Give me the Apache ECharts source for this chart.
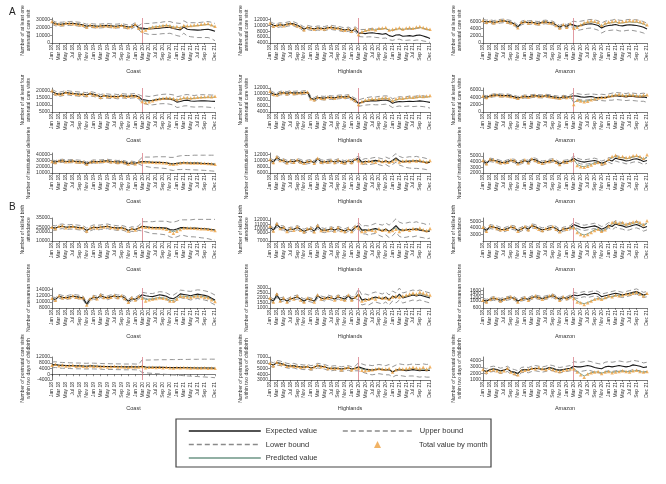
<!DOCTYPE html>
<html>
<head>
<meta charset="utf-8">
<script src="https://cdn.jsdelivr.net/npm/echarts@6/dist/echarts.min.js"></script>
<style>
html,body{margin:0;padding:0;background:#fff}
#main{width:666px;height:484px}
</style>
</head>
<body>
<div id="main"></div>
<script>
/*月份*/
var months = ['Jan 18','Feb 18','Mar 18','Apr 18','May 18','Jun 18','Jul 18','Aug 18','Sep 18','Oct 18','Nov 18','Dec 18',
	'Jan 19','Feb 19','Mar 19','Apr 19','May 19','Jun 19','Jul 19','Aug 19','Sep 19','Oct 19','Nov 19','Dec 19',
	'Jan 20','Feb 20','Mar 20','Apr 20','May 20','Jun 20','Jul 20','Aug 20','Sep 20','Oct 20','Nov 20','Dec 20',
	'Jan 21','Feb 21','Mar 21','Apr 21','May 21','Jun 21','Jul 21','Aug 21','Sep 21','Oct 21','Nov 21','Dec 21'];
var areas = ['Coast', 'Highlands', 'Amazon'];
var indicators = ['Number of at least one\nantenatal care visit', 'Number of at least four\nantenatal care visits',
	'Number of institutional deliveries', 'Number of skilled birth\nattendance', 'Number of caesarean sections',
	'Number of postnatal care visits\nwithin two days of childbirth'];

/* row 1: at least one ANC visit */
var c1Exp = [26500,24500,24000,24200,24800,25000,25200,24500,24000,23000,21500,22500,22000,21500,21800,22200,22500,22000,21500,21800,22300,21500,20500,20800,23500,19500,19000,18500,18000,18200,18500,18800,19500,19800,20000,18500,17500,16800,20500,17500,17000,16800,16500,16800,17200,17500,16500,15000];
var c1Tot = [27500,25000,24200,23800,25500,25200,24800,24300,23500,22800,20500,23000,21500,21000,22500,21800,22000,21800,20800,21500,22800,21000,20000,21500,24000,19000,15500,16500,19000,20500,21000,21500,22500,23000,22000,20500,21000,20000,22500,22000,22500,23000,23500,24000,24500,25000,23500,21500];
var c1Pred = [26800,24800,24100,24000,25200,25100,25000,24400,23800,22900,21000,22700,21800,21300,22100,22000,22300,21900,21200,21700,22500,21300,20300,21100,23700,19300,17000,17500,19200,20300,20800,21300,22200,22600,22000,20300,20200,19600,22000,21000,21400,21800,22300,22800,23300,23800,22500,20800];
var c1Up = [29000,27000,26500,26700,27300,27500,27700,27000,26500,25500,24000,25000,24500,24000,24300,24700,25000,24500,24000,24300,24800,24000,23000,23300,26000,22000,25000,25000,25000,25500,26000,26000,27000,27500,27500,26000,25500,25000,28500,26000,26000,26000,26000,26500,27000,27500,26500,25000];
var c1Lo = [24000,22000,21500,21700,22300,22500,22700,22000,21500,20500,19000,20000,19500,19000,19300,19700,20000,19500,19000,19300,19800,19000,18000,18300,21000,17000,13000,12000,11000,11000,11000,11500,12000,12000,12500,11000,9500,8500,12500,9000,8000,7500,7000,7000,7000,7000,5500,3000];

var h1Exp = [10600,10000,9900,10200,10000,10400,10600,10500,10000,9500,8700,9300,9000,8800,9100,9000,8900,9200,9300,9100,9000,8700,8400,8700,8100,8800,7400,7300,7200,7400,7500,7300,7200,7000,7200,6500,6200,6700,6800,6300,6400,6500,6300,6600,6700,6400,6000,5500];
var h1Tot = [10800,9800,10000,10400,9900,10500,10700,10400,9900,9400,8500,9400,9100,8700,9200,8900,8800,9300,9400,9000,9100,8600,8300,8800,8000,8900,6900,7800,8300,8600,8800,8500,9000,9100,9300,8400,8700,8900,9200,8800,9100,9300,9000,9400,9600,9300,9000,8700];
var h1Pred = [10700,9900,9950,10300,9950,10450,10650,10450,9950,9450,8600,9350,9050,8750,9150,8950,8850,9250,9350,9050,9050,8650,8350,8750,8050,8850,7200,7700,8100,8400,8600,8400,8700,8800,9000,8300,8400,8600,8900,8600,8800,9000,8800,9100,9300,9000,8700,8400];
var h1Up = [11300,10700,10600,10900,10700,11100,11300,11200,10700,10200,9400,10000,9700,9500,9800,9700,9600,9900,10000,9800,9700,9400,9100,9400,8800,9500,8600,8600,8600,8800,9000,8800,8800,8700,8900,8300,8100,8700,8900,8400,8600,8700,8600,8900,9100,8900,8500,8100];
var h1Lo = [9900,9300,9200,9500,9300,9700,9900,9800,9300,8800,8000,8600,8300,8100,8400,8300,8200,8500,8600,8400,8300,8000,7700,8000,7400,8100,6200,6100,6000,6100,6100,5900,5800,5600,5700,5100,4900,5200,5300,4900,4900,5000,4800,5000,5000,4700,4500,4200];

var a1Exp = [6100,5900,6000,5800,5900,6100,6200,6000,5800,5300,4500,5600,5900,5700,5800,5600,5500,5800,5900,5700,5600,5000,4400,5000,4600,5300,5000,4700,4900,5100,5300,5400,5200,4900,4200,4700,4900,5000,5200,4900,4800,5000,5100,5000,4900,4700,4400,3900];
var a1Tot = [6300,5800,6100,5700,6000,6300,6400,5900,5700,5200,4300,5800,6000,5600,5900,5500,5400,5900,6000,5600,5700,4900,4200,5200,4400,5400,4200,4400,5100,5700,6000,6200,6100,5800,5000,5600,5900,6000,6200,5900,6000,6100,6300,6200,6200,6000,5700,5100];
var a1Pred = [6200,5850,6050,5750,5950,6200,6300,5950,5750,5250,4400,5700,5950,5650,5850,5550,5450,5850,5950,5650,5650,4950,4300,5100,4500,5350,4500,4500,5000,5500,5800,5900,5800,5500,4700,5300,5600,5700,5900,5600,5600,5800,5900,5800,5800,5600,5300,4800];
var a1Up = [6600,6400,6500,6300,6400,6600,6700,6500,6300,5800,5000,6100,6400,6200,6300,6100,6000,6300,6400,6200,6100,5500,4900,5500,5100,5800,6100,5900,6100,6300,6500,6600,6500,6200,5600,6100,6300,6400,6700,6400,6300,6500,6600,6500,6500,6300,6000,5500];
var a1Lo = [5600,5400,5500,5300,5400,5600,5700,5500,5300,4800,4000,5100,5400,5200,5300,5100,5000,5300,5400,5200,5100,4500,3900,4500,4100,4800,3900,3500,3700,3900,4100,4200,3900,3600,2800,3300,3500,3600,3700,3400,3300,3500,3600,3500,3300,3100,2800,2200];

/* row 2: at least four ANC visits */
var c2Exp = [19500,18200,17500,18000,18800,18400,18000,17900,17600,17500,17200,18000,17500,16800,15800,16500,16300,16000,16200,15800,16500,16300,16000,16400,16600,15800,13800,13500,13000,13200,13600,14000,14200,14300,14000,13500,12000,12400,13200,13400,12800,12600,12800,13000,12900,12800,12600,12500];
var c2Tot = [20000,18000,17800,17700,19000,18200,18300,17600,17400,17800,16800,18200,17200,17000,15500,16800,16000,16200,15900,16000,16800,16000,16200,16700,16400,15500,12500,11800,12300,13000,13800,14400,14800,15100,15000,14600,13800,14500,15200,15300,15000,15200,15500,15700,15800,16000,15800,16200];
var c2Pred = [19700,18100,17650,17850,18900,18300,18150,17750,17500,17650,17000,18100,17350,16900,15650,16650,16150,16100,16050,15900,16650,16150,16100,16550,16500,15650,13000,12600,12800,13300,13900,14300,14600,14800,14700,14300,13500,14000,14700,14800,14500,14700,15000,15200,15300,15500,15400,15600];
var c2Up = [21000,19700,19000,19500,20300,19900,19500,19400,19100,19000,18700,19500,19000,18300,17300,18000,17800,17500,17700,17300,18000,17800,17500,17900,18100,17300,16200,16300,16000,16300,16800,17200,17500,17700,17500,17100,15800,16300,17100,17400,16900,16700,17000,17300,17200,17200,17000,17000];
var c2Lo = [18000,16700,16000,16500,17300,16900,16500,16400,16100,16000,15700,16500,16000,15300,14300,15000,14800,14500,14700,14300,15000,14800,14500,14900,15100,14300,11400,10700,10000,10100,10400,10800,10900,10900,10500,9900,8200,8500,9300,9400,8700,8500,8600,8700,8600,8400,8200,7800];

var h2Exp = [10600,10000,9800,10300,10400,10200,10500,10300,10400,10300,10500,10500,8600,8200,8800,8700,8600,8900,8800,8700,9000,9100,9000,9200,8600,8000,6900,7200,7500,7600,7800,7700,7800,7900,8000,7700,6900,7300,7500,7400,7500,7600,7500,7600,7700,7600,7400,7200];
var h2Tot = [10900,9900,9700,10400,10500,10100,10600,10200,10300,10400,10600,10700,8400,8100,8900,8600,8500,9000,8900,8600,9100,9200,8900,9300,8500,7800,6500,7500,8000,8200,8400,8300,8500,8700,8800,8500,7800,8400,8700,8600,8800,9000,8900,9100,9300,9200,9300,9500];
var h2Pred = [10750,9950,9750,10350,10450,10150,10550,10250,10350,10350,10550,10600,8500,8150,8850,8650,8550,8950,8850,8650,9050,9150,8950,9250,8550,7900,6700,7400,7800,8000,8200,8100,8300,8500,8600,8300,7500,8000,8400,8300,8500,8700,8600,8800,9000,8900,9000,9100];
var h2Up = [11200,10600,10400,10900,11000,10800,11100,10900,11000,10900,11100,11100,9200,8800,9400,9300,9200,9500,9400,9300,9600,9700,9600,9800,9200,8600,8000,8400,8700,8900,9100,9000,9200,9300,9400,9200,8400,8800,9100,9000,9100,9300,9200,9300,9500,9400,9200,9100];
var h2Lo = [10000,9400,9200,9700,9800,9600,9900,9700,9800,9700,9900,9900,8000,7600,8200,8100,8000,8300,8200,8100,8400,8500,8400,8600,8000,7400,5900,6100,6300,6400,6500,6400,6400,6500,6600,6200,5500,5800,6000,5800,5900,6000,5800,5900,5900,5800,5600,5300];

var a2Exp = [4200,4000,4300,4500,4600,4500,4400,4500,4300,4100,3800,4000,4200,4100,4300,4400,4300,4200,4400,4300,4100,4000,3800,4100,4000,4200,4400,4300,4100,4000,4100,4200,4000,3900,4000,3900,4100,4200,4400,4300,4200,4100,4300,4200,4100,4000,4100,3900];
var a2Tot = [4300,3900,4400,4600,4700,4400,4500,4400,4200,4000,3700,4100,4300,4000,4400,4500,4200,4300,4500,4200,4000,3900,3700,4200,3900,4100,2000,3200,3000,2800,2900,3300,3600,3800,3900,4000,4300,4500,4700,4800,4600,4500,4700,4600,4500,4400,4600,4700];
var a2Pred = [4250,3950,4350,4550,4650,4450,4450,4450,4250,4050,3750,4050,4250,4050,4350,4450,4250,4250,4450,4250,4050,3950,3750,4150,3950,4150,2600,3100,3000,2900,3000,3300,3500,3700,3800,3900,4200,4400,4600,4600,4500,4400,4600,4500,4400,4300,4400,4500];
var a2Up = [4600,4400,4700,4900,5000,4900,4800,4900,4700,4500,4200,4400,4600,4500,4700,4800,4700,4600,4800,4700,4500,4400,4200,4500,4400,4600,5200,5000,4800,4700,4800,4900,4800,4700,4800,4700,4900,5100,5300,5200,5100,5000,5200,5100,5000,5000,5100,4900];
var a2Lo = [3800,3600,3900,4100,4200,4100,4000,4100,3900,3700,3400,3600,3800,3700,3900,4000,3900,3800,4000,3900,3700,3600,3400,3700,3600,3800,3600,3500,3300,3200,3300,3400,3200,3100,3100,3000,3200,3200,3400,3300,3200,3100,3200,3100,3000,2900,2900,2600];

/* row 3: institutional deliveries */
var c3Exp = [28000,27500,29000,29500,28500,28800,29000,28500,28000,27500,25000,27000,28500,28000,28500,29000,29500,28500,28000,27500,28000,27000,25000,26500,25500,27000,28500,28000,27500,27000,27200,27000,26800,26500,25000,24500,25500,26000,26500,26000,25800,26000,25800,25500,25300,25000,24500,24000];
var c3Tot = [28500,27000,29500,30000,28000,29000,29500,28200,27800,27800,24500,27500,28800,27500,29000,28800,29800,28200,28300,27000,28200,26800,24500,27000,25000,27500,27500,27800,27600,27200,27000,26800,26600,26200,24500,24200,25000,26200,26800,26300,26000,26200,26000,25800,25500,25200,24800,24200];
var c3Pred = [28250,27250,29250,29750,28250,28900,29250,28350,27900,27650,24750,27250,28650,27750,28750,28900,29650,28350,28150,27250,28100,26900,24750,26750,25250,27250,27800,27800,27500,27100,27000,26800,26600,26300,24700,24300,25200,26000,26600,26100,25900,26100,25900,25600,25400,25100,24600,24100];
var c3Up = [30500,30000,31500,32000,31000,31300,31500,31000,30500,30000,27500,29500,31000,30500,31000,31500,32000,31000,30500,30000,30500,29500,27500,29000,28000,29500,35000,35500,35500,35500,36000,36000,36000,36000,35000,35000,36500,37500,38000,38000,38000,38500,38500,38500,38500,38500,38500,38500];
var c3Lo = [25500,25000,26500,27000,26000,26300,26500,26000,25500,25000,22500,24500,26000,25500,26000,26500,27000,26000,25500,25000,25500,24500,22500,24000,23000,24500,22000,20500,19500,18500,18400,18000,17600,17000,15000,14000,15500,15500,16000,15500,15200,15000,14800,14500,14200,13800,13300,12800];

var h3Exp = [10200,9600,11000,10300,10000,9500,9800,9700,10100,9800,9300,9600,9800,9400,10600,9700,9500,9800,9900,9600,10000,9700,9400,9900,9600,10300,10800,9500,9800,9600,9900,10100,9800,9500,10000,9400,10100,10900,10000,9600,9700,9900,9800,10000,9700,9600,9300,9500];
var h3Tot = [10400,9400,11200,10100,10200,9300,10000,9500,10300,9600,9200,9800,10000,9200,10800,9500,9700,9600,10100,9400,10200,9500,9300,10100,9400,10500,10000,9300,9600,9900,9700,9500,10100,9700,9900,9500,9800,10300,9600,9900,10000,9700,10100,9900,10200,9800,9600,10100];
var h3Pred = [10300,9500,11100,10200,10100,9400,9900,9600,10200,9700,9250,9700,9900,9300,10700,9600,9600,9700,10000,9500,10100,9600,9350,10000,9500,10400,10300,9400,9700,9800,9800,9700,10000,9600,9900,9500,9900,10500,9800,9800,9900,9800,10000,9900,10000,9700,9500,9900];
var h3Up = [10800,10200,11600,10900,10600,10100,10400,10300,10700,10400,9900,10200,10400,10000,11200,10300,10100,10400,10500,10200,10600,10300,10000,10500,10200,10900,11500,10300,10700,10600,10900,11100,10900,10600,11200,10700,11400,12300,11400,11000,11100,11300,11200,11400,11100,11000,10700,10900];
var h3Lo = [9600,9000,10400,9700,9400,8900,9200,9100,9500,9200,8700,9000,9200,8800,10000,9100,8900,9200,9300,9000,9400,9100,8800,9300,9000,9700,10100,8700,8900,8600,8900,9100,8700,8400,8800,8100,8800,9500,8600,8200,7800,7600,7500,7500,7400,7300,7100,7300];

var a3Exp = [4100,3700,4300,4200,4100,3900,3800,4000,4200,4100,3700,3900,4200,3900,4400,4300,4000,3800,3900,4100,4200,4000,3600,3900,4000,4100,4600,4200,4000,3900,4000,4100,4200,4000,3700,3900,4300,4100,4600,4400,4300,4100,4200,4400,4500,4300,4000,4200];
var a3Tot = [4200,3600,4400,4300,4000,3800,3900,3900,4300,4200,3600,4000,4300,3800,4500,4200,3900,3700,4000,4000,4300,3900,3500,4000,3900,4200,4300,3300,3100,3000,3200,3400,3700,3900,3600,3800,4400,4900,5100,4800,4900,4700,4800,5000,5100,4900,4600,5200];
var a3Pred = [4150,3650,4350,4250,4050,3850,3850,3950,4250,4150,3650,3950,4250,3850,4450,4250,3950,3750,3950,4050,4250,3950,3550,3950,3950,4150,4400,3500,3200,3100,3300,3500,3800,3900,3650,3850,4300,4700,4900,4700,4700,4500,4600,4800,4900,4700,4400,4800];
var a3Up = [4400,4000,4600,4500,4400,4200,4100,4300,4500,4400,4000,4200,4500,4200,4700,4600,4300,4100,4200,4400,4500,4300,3900,4200,4300,4400,5000,4600,4400,4300,4400,4500,4600,4400,4100,4300,4700,4600,5100,4900,4800,4600,4700,4900,5000,4800,4500,4700];
var a3Lo = [3800,3400,4000,3900,3800,3600,3500,3700,3900,3800,3400,3600,3900,3600,4100,4000,3700,3500,3600,3800,3900,3700,3300,3600,3700,3800,4200,3800,3600,3500,3600,3700,3800,3600,3300,3500,3900,3600,4100,3900,3800,3600,3700,3900,4000,3800,3500,3700];

/* row 4: skilled birth attendance */
var c4Exp = [24500,24000,25500,26000,25000,25300,25500,25000,24500,24000,21500,23500,25000,24500,25000,25500,26000,25000,24500,24000,24500,23500,21500,23000,22500,24000,26000,25500,25000,24500,24700,24500,24300,24000,22500,22000,23000,24500,24500,24000,23800,24000,23800,23500,23300,23000,22500,22000];
var c4Tot = [25000,23500,26000,26500,24500,25500,26000,24800,24300,24300,21000,24000,25300,24000,25500,25300,26300,24700,24800,23500,24700,23300,21000,23500,22000,24500,25500,25000,24800,24300,24200,24000,23500,22800,20500,18500,20500,22500,24000,24200,24000,23800,23600,23400,23200,22800,22300,21500];
var c4Pred = [24750,23750,25750,26250,24750,25400,25750,24900,24400,24150,21250,23750,25150,24250,25250,25400,26150,24850,24650,23750,24600,23400,21250,23250,22250,24250,25700,25200,24900,24400,24400,24200,23900,23400,21500,20000,21500,23300,24200,24100,23900,23900,23700,23500,23300,22900,22400,21800];
var c4Up = [27000,26500,28000,28500,27500,27800,28000,27500,27000,26500,24000,26000,27500,27000,27500,28000,28500,27500,27000,26500,27000,26000,24000,25500,25000,26500,31000,31000,31000,31000,31500,31500,31500,31500,30500,30500,31500,33000,33000,33000,33000,33500,33500,33500,33500,33500,33500,33500];
var c4Lo = [22000,21500,23000,23500,22500,22800,23000,22500,22000,21500,19000,21000,22500,22000,22500,23000,23500,22500,22000,21500,22000,21000,19000,20500,20000,21500,21000,20000,19000,18000,17900,17500,17100,16500,14500,13500,14500,16000,16000,15000,14600,14500,14100,13500,13100,12500,11500,11000];

var h4Exp = [10300,9600,10900,10200,10100,9500,9800,9800,10200,9800,9300,9700,9900,9400,10500,9700,9500,9700,9900,9600,10000,9700,9400,9800,9500,10200,10700,9600,9700,9500,9800,10000,9700,9400,9900,9300,9900,10700,9800,9500,9600,9800,9700,9900,9600,9500,9200,9400];
var h4Tot = [10500,9400,11100,10000,10300,9300,10000,9600,10400,9600,9200,9900,10100,9200,10700,9500,9700,9500,10100,9400,10200,9500,9300,10000,9300,10400,10100,9300,9400,9700,9600,9400,9900,9600,9700,9300,9500,9800,9300,9700,9800,9600,10000,9800,10100,9700,9500,10000];
var h4Pred = [10400,9500,11000,10100,10200,9400,9900,9700,10300,9700,9250,9800,10000,9300,10600,9600,9600,9600,10000,9500,10100,9600,9350,9900,9400,10300,10400,9450,9550,9600,9700,9700,9800,9500,9800,9300,9700,10200,9500,9600,9700,9700,9850,9850,9850,9600,9350,9700];
var h4Up = [10800,10100,11400,10700,10600,10000,10300,10300,10700,10300,9800,10200,10400,9900,11000,10200,10000,10200,10400,10100,10500,10200,9900,10300,10000,10700,11400,10500,10700,10600,10900,11200,11000,10800,11300,10800,11500,12300,11500,11200,11300,11500,11400,11600,11300,11200,10900,11100];
var h4Lo = [9800,9100,10400,9700,9600,9000,9300,9300,9700,9300,8800,9200,9400,8900,10000,9200,9000,9200,9400,9100,9500,9200,8900,9300,9000,9700,10000,8700,8700,8400,8700,8800,8400,8000,8500,7800,8300,9100,8100,7800,7900,8100,8000,8200,7900,7800,7500,7700];

var a4Exp = [4000,3600,4200,4100,4000,3800,3700,3900,4100,4000,3600,3800,4100,3800,4300,4200,3900,3700,3800,4000,4100,3900,3500,3800,3900,4000,4500,4300,4100,4000,4100,4200,4300,4100,3800,4000,4400,4200,4600,4400,4300,4100,4200,4400,4500,4300,4000,4200];
var a4Tot = [4100,3500,4300,4200,3900,3700,3800,3800,4200,4100,3500,3900,4200,3700,4400,4100,3800,3600,3900,3900,4200,3800,3400,3900,3800,4100,4000,3300,3000,2800,3000,3300,3600,3800,3500,3700,4300,4800,4900,4700,4800,4600,4700,4900,5000,4800,4500,5100];
var a4Pred = [4050,3550,4250,4150,3950,3750,3750,3850,4150,4050,3550,3850,4150,3750,4350,4150,3850,3650,3850,3950,4150,3850,3450,3850,3850,4050,4200,3500,3100,2900,3100,3400,3700,3800,3550,3750,4200,4600,4800,4600,4600,4400,4500,4700,4800,4600,4300,4700];
var a4Up = [4300,3900,4500,4400,4300,4100,4000,4200,4400,4300,3900,4100,4400,4100,4600,4500,4200,4000,4100,4300,4400,4200,3800,4100,4200,4300,4900,4700,4500,4400,4500,4600,4700,4500,4200,4400,4800,4700,5100,4900,4800,4600,4700,4900,5000,4800,4500,4700];
var a4Lo = [3700,3300,3900,3800,3700,3500,3400,3600,3800,3700,3300,3500,3800,3500,4000,3900,3600,3400,3500,3700,3800,3600,3200,3500,3600,3700,4100,3900,3700,3600,3700,3800,3900,3700,3400,3600,4000,3700,4100,3900,3800,3600,3700,3900,4000,3800,3500,3700];

/* row 5: caesarean sections */
var c5Exp = [11000,10800,11800,11500,11300,11600,11800,11700,11500,11200,9300,10800,11500,11200,12000,11600,11300,11700,11900,11600,11800,11300,10200,11000,10800,11500,12300,12000,11800,11700,12000,12300,12100,11800,11200,11000,11700,12600,12400,12200,12000,12300,12500,12300,12100,11800,11200,10600];
var c5Tot = [11200,10500,12000,11300,11500,11400,12000,11500,11300,11300,9000,11000,11700,11000,12200,11400,11500,11500,12100,11400,12000,11100,9900,11300,10600,11700,11200,10300,10700,10900,11100,11300,11200,11000,10300,10300,10900,11800,11700,11600,11400,11700,11900,11700,11500,11300,10700,10100];
var c5Pred = [11100,10650,11900,11400,11400,11500,11900,11600,11400,11250,9150,10900,11600,11100,12100,11500,11400,11600,12000,11500,11900,11200,10050,11150,10700,11600,11500,10700,10900,11000,11200,11400,11300,11100,10500,10400,11100,11900,11800,11700,11500,11800,12000,11800,11600,11400,10800,10200];
var c5Up = [11600,11400,12400,12100,11900,12200,12400,12300,12100,11800,9900,11400,12100,11800,12600,12200,11900,12300,12500,12200,12400,11900,10800,11600,11400,12100,13100,12900,12700,12700,13000,13300,13200,12900,12300,12200,12900,13800,13700,13500,13400,13700,13900,13800,13600,13300,12800,12200];
var c5Lo = [10400,10200,11200,10900,10700,11000,11200,11100,10900,10600,8700,10200,10900,10600,11400,11000,10700,11100,11300,11000,11200,10700,9600,10400,10200,10900,11500,11100,10900,10700,11000,11300,11000,10700,10100,9800,10500,11400,11100,10900,10600,10900,11100,10800,10600,10300,9600,9000];

var h5Exp = [1900,1700,2300,1800,1900,1700,1900,2000,2100,1900,1700,1900,1800,1700,2200,2000,1900,2100,2000,1900,2100,2000,1900,2200,1900,2000,2400,1800,1900,1800,2000,2100,2000,1900,2100,1800,2200,2000,2400,2000,2100,2200,2300,2200,2300,2200,2100,2000];
var h5Tot = [2000,1600,2400,1700,2000,1600,2000,1900,2200,1800,1600,2000,1900,1600,2300,1900,2000,2000,2100,1800,2200,1900,1800,2300,1800,2100,2300,1700,1800,1900,2000,1900,2100,2000,2000,1900,2100,2200,2100,2200,2300,2400,2500,2400,2600,2500,2400,2300];
var h5Pred = [1950,1650,2350,1750,1950,1650,1950,1950,2150,1850,1650,1950,1850,1650,2250,1950,1950,2050,2050,1850,2150,1950,1850,2250,1850,2050,2350,1750,1850,1850,2000,2000,2050,1950,2050,1850,2150,2100,2250,2100,2200,2300,2400,2300,2450,2350,2250,2150];
var h5Up = [2100,1900,2500,2000,2100,1900,2100,2200,2300,2100,1900,2100,2000,1900,2400,2200,2100,2300,2200,2100,2300,2200,2100,2400,2100,2200,2900,2300,2400,2300,2500,2600,2500,2400,2600,2300,2700,2500,3000,2500,2600,2700,2800,2700,2800,2700,2600,2500];
var h5Lo = [1700,1500,2100,1600,1700,1500,1700,1800,1900,1700,1500,1700,1600,1500,2000,1800,1700,1900,1800,1700,1900,1800,1700,2000,1700,1800,1900,1300,1400,1300,1500,1600,1500,1400,1600,1300,1700,1500,1800,1500,1600,1700,1800,1700,1800,1700,1600,1500];

var a5Exp = [1050,1000,1100,1150,1100,1050,1100,1150,1200,1150,1000,1100,1150,1100,1200,1250,1200,1150,1200,1250,1300,1200,1100,1200,1150,1250,1350,1300,1350,1400,1350,1400,1450,1400,1250,1300,1350,1400,1450,1400,1350,1400,1450,1500,1550,1450,1350,1400];
var a5Tot = [1050,950,1100,1200,1150,1000,1100,1200,1250,1150,950,1100,1200,1050,1200,1300,1200,1100,1200,1300,1350,1200,1050,1250,1150,1250,1150,950,900,800,900,1000,1100,1150,1100,1200,1300,1250,1350,1300,1350,1400,1400,1450,1500,1400,1300,1450];
var a5Pred = [1050,975,1100,1175,1125,1025,1100,1175,1225,1150,975,1100,1175,1075,1200,1275,1200,1125,1200,1275,1325,1200,1075,1225,1150,1250,1200,1000,900,850,920,1000,1100,1150,1100,1150,1250,1250,1350,1300,1330,1380,1400,1450,1480,1400,1300,1400];
var a5Up = [1150,1100,1200,1250,1200,1150,1200,1250,1300,1250,1100,1200,1250,1200,1300,1350,1300,1250,1300,1350,1400,1300,1200,1300,1250,1350,1500,1450,1500,1550,1500,1550,1600,1550,1400,1450,1500,1550,1600,1550,1500,1550,1600,1650,1700,1600,1500,1550];
var a5Lo = [950,900,1000,1050,1000,950,1000,1050,1100,1050,900,1000,1050,1000,1100,1150,1100,1050,1100,1150,1200,1100,1000,1100,1050,1150,1200,1150,1200,1250,1200,1250,1300,1250,1100,1150,1200,1250,1300,1250,1200,1250,1300,1350,1400,1300,1200,1250];

/* row 6: postnatal care visits within two days */
var c6Exp = [6500,6700,6300,6200,6100,6000,5900,5800,5800,5700,5600,5800,5700,5600,5500,5400,5400,5300,5300,5200,5200,5100,5100,5200,5100,5000,5600,5000,4900,4900,4800,4800,4800,4700,4700,4600,4600,4600,4500,4500,4500,4400,4400,4400,4300,4300,4300,4200];
var c6Tot = [6300,7000,6000,6400,5800,5900,6200,5600,5900,5500,5300,6000,5600,5800,5200,5500,5100,5300,5500,5000,5300,5000,4800,5300,5000,5100,5400,4600,4800,4900,4700,4900,4600,4800,4500,4400,4700,4500,4700,4600,4400,4500,4400,4300,4500,4200,4300,4100];
var c6Pred = [6400,6800,6200,6300,5900,5950,6050,5700,5850,5600,5450,5900,5650,5700,5350,5450,5250,5300,5400,5100,5250,5050,4950,5250,5050,5050,5300,4700,4800,4850,4750,4850,4650,4750,4550,4450,4650,4550,4650,4550,4450,4450,4400,4350,4450,4250,4300,4150];
var c6Up = [8500,8700,8300,8200,8100,8000,7900,7800,7800,7700,7600,7800,7700,7600,7500,7400,7400,7300,7300,7200,7200,7100,7100,7200,7100,7000,10000,9900,9900,10000,10000,10100,10100,10100,10200,10200,10200,10300,10300,10300,10400,10400,10400,10500,10500,10500,10500,10500];
var c6Lo = [4500,4700,4300,4200,4100,4000,3900,3800,3800,3700,3600,3800,3700,3600,3500,3400,3400,3300,3300,3200,3200,3100,3100,3200,3100,3000,1200,1000,800,600,400,300,100,-100,-300,-500,-700,-800,-1000,-1200,-1300,-1500,-1600,-1800,-1900,-2100,-2200,-2400];

var h6Exp = [5800,5600,6000,5900,5700,5500,5400,5500,5300,5300,5200,5300,5100,5200,5500,5400,5300,5100,5000,5100,5000,4900,5000,5100,4900,5000,5300,5100,4900,4800,4700,4800,4900,4800,4700,4800,4400,4700,4800,4700,4600,4700,4800,4700,4600,4700,4600,4700];
var h6Tot = [5900,5500,6100,5800,5800,5400,5500,5400,5400,5200,5300,5400,5000,5300,5600,5300,5400,5000,5100,5000,5100,4800,5100,5200,4800,5100,5100,4700,4600,4700,4800,4900,5000,4900,4900,5000,4400,4800,5000,4900,5000,5100,5200,5100,5000,5200,4900,5300];
var h6Pred = [5850,5550,6050,5850,5750,5450,5450,5450,5350,5250,5250,5350,5050,5250,5550,5350,5350,5050,5050,5050,5050,4850,5050,5150,4850,5050,5200,4900,4750,4750,4750,4850,4950,4850,4800,4900,4400,4750,4900,4800,4800,4900,5000,4900,4800,4950,4750,5000];
var h6Up = [6200,6000,6400,6300,6100,5900,5800,5900,5700,5700,5600,5700,5500,5600,5900,5800,5700,5500,5400,5500,5400,5300,5400,5500,5300,5400,6000,5800,5600,5600,5500,5600,5700,5600,5500,5700,5300,5600,5800,5700,5600,5700,5800,5700,5700,5800,5700,5800];
var h6Lo = [5400,5200,5600,5500,5300,5100,5000,5100,4900,4900,4800,4900,4700,4800,5100,5000,4900,4700,4600,4700,4600,4500,4600,4700,4500,4600,4600,4400,4200,4000,3900,4000,4100,4000,3900,3900,3500,3800,3800,3700,3600,3700,3700,3600,3500,3600,3500,3500];

var a6Exp = [2500,2300,2600,2700,2600,2400,2500,2700,2300,2200,2000,2500,2600,2500,2700,2800,2700,2600,2700,2900,2800,2600,2500,2600,2700,2800,3100,3000,3000,3100,3200,3100,2900,2800,2700,3000,3100,3000,3100,3200,3100,3000,3100,3300,3200,3100,2900,3000];
var a6Tot = [2600,2200,2500,2600,2400,2200,2400,2800,2200,2000,1800,2400,2500,2600,2800,2700,2900,2700,2600,2800,2600,2400,2300,2500,2600,2700,2700,2200,1800,1400,1900,2100,2200,2300,2000,2200,2300,2100,2200,2300,2400,2300,2200,2400,2500,2300,2200,2300];
var a6Pred = [2550,2250,2550,2650,2500,2300,2450,2750,2250,2100,1900,2450,2550,2550,2750,2750,2800,2650,2650,2850,2700,2500,2400,2550,2650,2750,2800,2300,1950,1600,1900,2100,2200,2250,2050,2200,2300,2150,2250,2300,2350,2300,2250,2350,2450,2300,2200,2250];
var a6Up = [2900,2700,3000,3100,3000,2800,2900,3100,2700,2600,2400,2900,3000,2900,3100,3200,3100,3000,3100,3300,3200,3000,2900,3000,3100,3200,3800,3700,3700,3800,3900,3800,3600,3500,3400,3700,3800,3700,3800,3900,3800,3700,3800,4000,3900,3800,3600,3700];
var a6Lo = [2100,1900,2200,2300,2200,2000,2100,2300,1900,1800,1600,2100,2200,2100,2300,2400,2300,2200,2300,2500,2400,2200,2100,2200,2300,2400,2400,2300,2300,2400,2500,2400,2200,2100,2000,2300,2400,2300,2400,2500,2400,2300,2400,2600,2500,2400,2200,2300];

/* y axis tick settings, one per panel: [min, max, interval] */
var yScale = [
	[0, 32000, 10000], [4000, 12500, 2000], [0, 7000, 2000],
	[5000, 22000, 5000], [4000, 12000, 2000], [0, 6500, 2000],
	[10000, 42000, 10000], [6000, 12500, 2000], [2000, 5500, 1000],
	[10000, 35000, 5000], [7000, 12500, 1000], [2000, 5500, 1000],
	[8000, 14500, 2000], [1000, 3000, 500], [600, 1750, 200],
	[-4000, 12000, 4000], [3000, 7000, 1000], [1000, 4500, 1000]
];
var panelData = [
	[c1Tot, c1Exp, c1Pred, c1Up, c1Lo], [h1Tot, h1Exp, h1Pred, h1Up, h1Lo], [a1Tot, a1Exp, a1Pred, a1Up, a1Lo],
	[c2Tot, c2Exp, c2Pred, c2Up, c2Lo], [h2Tot, h2Exp, h2Pred, h2Up, h2Lo], [a2Tot, a2Exp, a2Pred, a2Up, a2Lo],
	[c3Tot, c3Exp, c3Pred, c3Up, c3Lo], [h3Tot, h3Exp, h3Pred, h3Up, h3Lo], [a3Tot, a3Exp, a3Pred, a3Up, a3Lo],
	[c4Tot, c4Exp, c4Pred, c4Up, c4Lo], [h4Tot, h4Exp, h4Pred, h4Up, h4Lo], [a4Tot, a4Exp, a4Pred, a4Up, a4Lo],
	[c5Tot, c5Exp, c5Pred, c5Up, c5Lo], [h5Tot, h5Exp, h5Pred, h5Up, h5Lo], [a5Tot, a5Exp, a5Pred, a5Up, a5Lo],
	[c6Tot, c6Exp, c6Pred, c6Up, c6Lo], [h6Tot, h6Exp, h6Pred, h6Up, h6Lo], [a6Tot, a6Exp, a6Pred, a6Up, a6Lo]
];

/*布局*/
var colLeft = [52, 270, 483];
var colWidth = [163, 160, 164];
var rowTop = [18, 88, 153, 218, 288, 357];
var rowHeight = [25, 24, 20, 23, 20, 23];
var FONT = 'Liberation Sans';

function showLabel(i) {
	return i % 2 === 0 && i <= 44 || i === 47;
}

function plainNumber(v) {
	return String(v);
}

function buildOption() {
	var grid = [], xAxis = [], yAxis = [], series = [];
	for(var i = 0; i < panelData.length; i++) {
		var r = Math.floor(i / 3), c = i % 3;
		var sc = yScale[i], d = panelData[i];
		grid.push({
			left: colLeft[c], top: rowTop[r], width: colWidth[c], height: rowHeight[r],
			outerBoundsMode: 'none'
		});
		xAxis.push({
			gridIndex: i, type: 'category', data: months, boundaryGap: false,
			name: areas[c], nameLocation: 'middle', nameGap: 25,
			nameTextStyle: {fontSize: 5.5, color: '#333', fontFamily: FONT},
			axisLine: {lineStyle: {color: '#222', width: 0.6}},
			axisTick: {interval: showLabel, length: 2, lineStyle: {color: '#222', width: 0.5}},
			axisLabel: {interval: showLabel, rotate: 90, fontSize: 5, margin: 2, color: '#333', fontFamily: FONT},
			splitLine: {show: false}
		});
		yAxis.push({
			gridIndex: i, type: 'value', min: sc[0], max: sc[1], interval: sc[2],
			name: indicators[r], nameLocation: 'middle', nameGap: 20,
			nameTextStyle: {fontSize: 5, lineHeight: 6, color: '#333', fontFamily: FONT},
			axisLine: {show: true, lineStyle: {color: '#222', width: 0.6}},
			axisTick: {show: true, length: 2, lineStyle: {color: '#222', width: 0.5}},
			axisLabel: {
				fontSize: 5, margin: 2, color: '#333', fontFamily: FONT, formatter: plainNumber,
				showMaxLabel: (sc[1] - sc[0]) % sc[2] === 0,
				showMinLabel: i !== 11
			},
			splitLine: {show: false}
		});
		series.push({
			name: 'Upper bound', type: 'line', xAxisIndex: i, yAxisIndex: i, data: d[3],
			symbol: 'none', silent: true, lineStyle: {color: '#8a8a8a', width: 0.9, type: [5, 3]}
		});
		series.push({
			name: 'Lower bound', type: 'line', xAxisIndex: i, yAxisIndex: i, data: d[4],
			symbol: 'none', silent: true, lineStyle: {color: '#8a8a8a', width: 0.9, type: [5, 3]}
		});
		series.push({
			name: 'Predicted value', type: 'line', xAxisIndex: i, yAxisIndex: i, data: d[2],
			symbol: 'none', silent: true, lineStyle: {color: '#6e9686', width: 0.9}
		});
		series.push({
			name: 'Expected value', type: 'line', xAxisIndex: i, yAxisIndex: i, data: d[1],
			symbol: 'none', silent: true, lineStyle: {color: '#1a1a1a', width: 1.1},
			markLine: {
				silent: true, symbol: 'none', label: {show: false},
				lineStyle: {color: '#d9808a', width: 0.8, type: 'solid'},
				data: [{xAxis: 'Mar 20'}]
			}
		});
		series.push({
			name: 'Total value by month', type: 'scatter', xAxisIndex: i, yAxisIndex: i, data: d[0],
			symbol: 'triangle', symbolSize: 3.5, symbolKeepAspect: true, silent: true,
			itemStyle: {color: '#eea040'}, z: 5
		});
	}
	var legendText = {fontSize: 7.5, lineHeight: 8, color: '#333', fontFamily: FONT};
	var hidden = {opacity: 0};
	return {
		animation: false,
		backgroundColor: '#fff',
		grid: grid, xAxis: xAxis, yAxis: yAxis, series: series,
		legend: [{
			left: 183, top: 422, orient: 'vertical', itemWidth: 72, itemHeight: 7, itemGap: 5.5,
			lineStyle: {width: 1.6}, itemStyle: hidden, textStyle: legendText, selectedMode: false,
			data: ['Expected value', 'Lower bound', 'Predicted value']
		}, {
			left: 337, top: 422, orient: 'vertical', itemWidth: 72, itemHeight: 7, itemGap: 5.5,
			lineStyle: {width: 1.6}, itemStyle: hidden, textStyle: legendText, selectedMode: false,
			data: ['Upper bound']
		}, {
			left: 369, top: 435.5, orient: 'vertical', itemWidth: 7, itemHeight: 7,
			textStyle: {fontSize: 7.5, lineHeight: 8, color: '#333', fontFamily: FONT, padding: [0, 0, 0, 33]},
			selectedMode: false,
			data: [{name: 'Total value by month', icon: 'triangle'}]
		}],
		graphic: [{
			type: 'rect', shape: {x: 176, y: 419, width: 315, height: 48},
			style: {fill: 'none', stroke: '#444', lineWidth: 1.2}
		}, {
			type: 'text', left: 9, top: 7, style: {text: 'A', fontSize: 10, fill: '#222', fontFamily: FONT}
		}, {
			type: 'text', left: 9, top: 202, style: {text: 'B', fontSize: 10, fill: '#222', fontFamily: FONT}
		}]
	};
}

var chart = echarts.init(document.getElementById('main'));
chart.setOption(buildOption());
</script>
</body>
</html>
